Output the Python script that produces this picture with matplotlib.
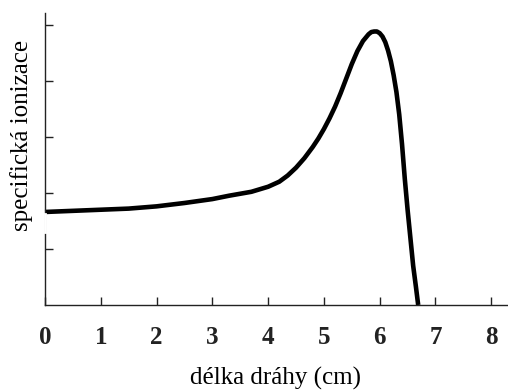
import matplotlib.pyplot as plt

# path length (cm) and specific ionisation (arbitrary units)
x = [0, 0.5, 1.0, 1.5, 2.0, 2.5, 3.0, 3.3, 3.7, 4.0, 4.2, 4.35, 4.5, 4.65,
     4.8, 4.9, 5.0, 5.1, 5.2, 5.3, 5.4, 5.5, 5.6, 5.7, 5.8, 5.85, 5.9, 5.95,
     6.0, 6.05, 6.1, 6.15, 6.2, 6.25, 6.3, 6.35, 6.4, 6.45, 6.5, 6.55, 6.6,
     6.65, 6.69]
y = [1.66, 1.68, 1.70, 1.72, 1.76, 1.82, 1.89, 1.95, 2.02, 2.11, 2.20, 2.31,
     2.45, 2.62, 2.82, 2.97, 3.14, 3.33, 3.54, 3.78, 4.04, 4.30, 4.53, 4.71,
     4.83, 4.87, 4.88, 4.88, 4.85, 4.79, 4.69, 4.54, 4.35, 4.10, 3.80, 3.40,
     2.87, 2.25, 1.70, 1.20, 0.70, 0.32, 0.0]

xticks = [0, 1, 2, 3, 4, 5, 6, 7, 8]
yticks = [1, 2, 3, 4, 5]

plt.rcParams['font.family'] = 'Liberation Serif'

fig = plt.figure(figsize=(5.08, 3.9), dpi=100)
ax = fig.add_axes([45 / 508, 85 / 390, 463 / 508, 292 / 390])

ax.plot(x, y, color='black', lw=3.3, solid_joinstyle='round',
        solid_capstyle='butt', clip_on=False)

ax.set_xlim(0, 8.3)
ax.set_ylim(0, 5.21)
ax.set_xticks(xticks)
ax.set_xticklabels([str(t) for t in xticks], fontweight='bold', fontsize=18)
ax.set_yticks(yticks)
ax.set_yticklabels([])
ax.tick_params(direction='in', length=6, width=1, colors='#222222', pad=15)

for s in ['top', 'right']:
    ax.spines[s].set_visible(False)
for s in ['left', 'bottom']:
    ax.spines[s].set_linewidth(1)
    ax.spines[s].set_color('#222222')

# small break in the left axis line just below the curve start
ax.plot([0, 0], [1.31, 1.62], color='white', lw=2, clip_on=False, zorder=5)

fig.text(276 / 508, 1 - 378 / 390, 'délka dráhy (cm)', ha='center', va='center',
         fontsize=18)
fig.text(22 / 508, 1 - 135 / 390, 'specifická ionizace', ha='center', va='center',
         rotation=90, fontsize=18)

fig.savefig('out.png', dpi=100)
